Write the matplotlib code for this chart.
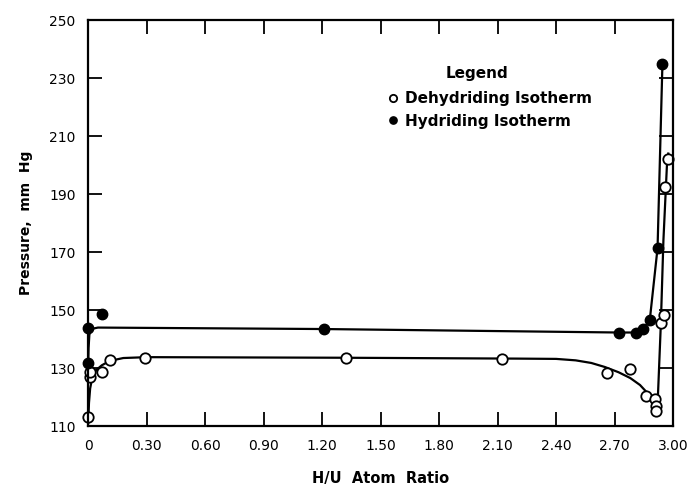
import matplotlib.pyplot as plt

# points
dehyd_x = [0.0, 0.01, 0.01, 0.07, 0.11, 0.29, 1.32, 2.12, 2.66, 2.78, 2.86, 2.905, 2.91, 2.91, 2.94, 2.955, 2.96, 2.975]
dehyd_y = [113, 127, 128.6, 128.7, 132.8, 133.4, 133.4, 133.1, 128.3, 129.6, 120.3, 119.3, 116.9, 115.2, 145.5, 148.5, 192.5, 202]

hyd_x = [0.0, 0.0, 0.07, 1.21, 2.72, 2.81, 2.845, 2.88, 2.92, 2.945]
hyd_y = [131.7, 144, 148.7, 143.4, 142.1, 142.1, 143.4, 146.5, 171.4, 235]

# hand-drawn smooth curves, traced vertex by vertex
deh_line_x = [0.0, 0.004, 0.01, 0.02, 0.04, 0.07, 0.11, 0.18, 0.3, 1.3, 2.2, 2.4, 2.5, 2.58, 2.65,
              2.72, 2.78, 2.83, 2.87, 2.9, 2.92, 2.937, 2.95, 2.97, 2.975]
deh_line_y = [111, 118, 123, 126.5, 129.3, 131, 132.5, 133.5, 133.8, 133.6, 133.3, 133.2, 132.7, 131.8, 130.4,
              128.6, 126.6, 124.2, 121.3, 118.8, 117.2, 145.5, 174, 202.7, 204]

hyd_line_x = [0.0, 0.002, 0.006, 0.015, 0.05, 1.2, 2.72, 2.81, 2.845, 2.88, 2.92, 2.945]
hyd_line_y = [131, 137, 141.5, 143.5, 144, 143.5, 142.3, 142.3, 143.3, 146.5, 171.4, 235]

x_ticks = [0, 0.3, 0.6, 0.9, 1.2, 1.5, 1.8, 2.1, 2.4, 2.7, 3.0]
x_labels = ['0', '0.30', '0.60', '0.90', '1.20', '1.50', '1.80', '2.10', '2.40', '2.70', '3.00']
y_ticks = [110, 130, 150, 170, 190, 210, 230, 250]

plt.rcParams['font.family'] = ['DejaVu Sans']

fig = plt.figure(figsize=(6.89, 4.91), dpi=100)
ax = fig.add_axes([0.128, 0.132, 0.849, 0.827])

ax.plot(deh_line_x, deh_line_y, color='black', lw=1.6)
ax.plot(hyd_line_x, hyd_line_y, color='black', lw=1.6)
ax.plot(dehyd_x, dehyd_y, 'o', ms=7.5, mfc='white', mec='black', mew=1.3,
        label='Dehydriding Isotherm', clip_on=False)
ax.plot(hyd_x, hyd_y, 'o', ms=7.5, mfc='black', mec='black',
        label='Hydriding Isotherm', clip_on=False)

ax.set_xlim(0, 3.0)
ax.set_ylim(110, 250)
ax.set_xticks(x_ticks)
ax.set_xticklabels(x_labels)
ax.set_yticks(y_ticks)
ax.tick_params(direction='in', length=10, width=1.3, top=True, right=True,
               labelsize=10, pad=9)
for s in ax.spines.values():
    s.set_linewidth(1.6)

ax.set_xlabel('H/U  Atom  Ratio', fontsize=10.5, fontweight='bold', labelpad=13)
ax.set_ylabel('Pressure,  mm  Hg', fontsize=10, fontweight='bold', labelpad=12)

ax.text(0.665, 0.869, 'Legend', transform=ax.transAxes, ha='center', va='center',
        fontsize=11, fontweight='bold')
ax.legend(loc='upper left', bbox_to_anchor=(0.513, 0.825), frameon=False,
          borderpad=0, borderaxespad=0, handlelength=0.6, handletextpad=0.5,
          markerscale=0.7, labelspacing=0.5,
          prop={'size': 11, 'weight': 'bold'})

fig.savefig('out.png', dpi=100)
